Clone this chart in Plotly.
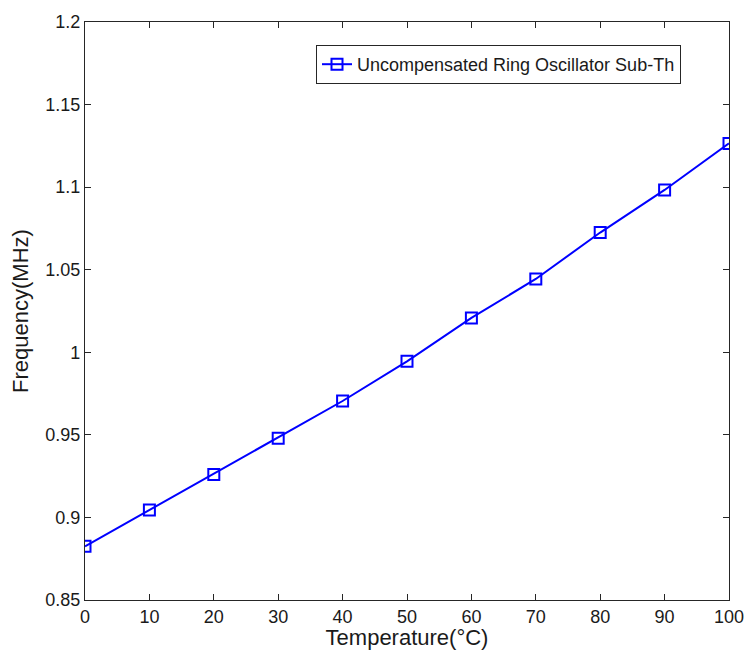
import plotly.graph_objects as go

temperature = [0, 10, 20, 30, 40, 50, 60, 70, 80, 90, 100]
frequency = [0.8825, 0.9045, 0.926, 0.948, 0.9705, 0.9945, 1.0208, 1.0444, 1.0725, 1.0983, 1.1265]
series_name = "Uncompensated Ring Oscillator Sub-Th"

x_ticks = [0, 10, 20, 30, 40, 50, 60, 70, 80, 90, 100]
y_ticks = [0.85, 0.9, 0.95, 1.0, 1.05, 1.1, 1.15, 1.2]
y_ticklabels = ["0.85", "0.9", "0.95", "1", "1.05", "1.1", "1.15", "1.2"]

font_family = "Liberation Sans, Arial, sans-serif"

fig = go.Figure()
fig.add_trace(go.Scatter(
    x=temperature, y=frequency, name=series_name,
    mode="lines+markers",
    line=dict(color="#0000ff", width=2),
    marker=dict(symbol="square-open", size=11, color="#0000ff", line=dict(width=2, color="#0000ff")),
))

axis_common = dict(
    showgrid=False, zeroline=False, showline=True, linecolor="#262626", linewidth=1.2,
    mirror="ticks", ticks="inside", ticklen=6, tickcolor="#262626",
    tickfont=dict(family=font_family, size=18, color="#1a1a1a"),
    ticklabeloverflow="allow",
)

fig.update_layout(
    width=746, height=650,
    margin=dict(l=85, r=17, t=22, b=50),
    paper_bgcolor="white", plot_bgcolor="white",
    font=dict(family=font_family, color="#1a1a1a"),
    showlegend=True,
    legend=dict(
        x=(316 - 85) / 644, y=(600 - 45) / 578, xanchor="left", yanchor="top",
        bgcolor="white", bordercolor="#262626", borderwidth=1,
        font=dict(family=font_family, size=18, color="#1a1a1a"),
        itemwidth=30,
    ),
    xaxis=dict(
        range=[0, 100], tickvals=x_ticks, ticktext=[str(v) for v in x_ticks],
        title=dict(text="Temperature(°C)", font=dict(family=font_family, size=22, color="#1a1a1a"), standoff=2),
        automargin=False, **axis_common,
    ),
    yaxis=dict(
        range=[0.85, 1.2], tickvals=y_ticks, ticktext=y_ticklabels,
        title=dict(text="Frequency(MHz)", font=dict(family=font_family, size=22, color="#1a1a1a"), standoff=10),
        automargin=False, **axis_common,
    ),
)

fig.write_html(
    "out.html",
    config={"displayModeBar": False},
    post_script="document.body.style.margin='0';document.body.style.overflow='hidden';",
)
